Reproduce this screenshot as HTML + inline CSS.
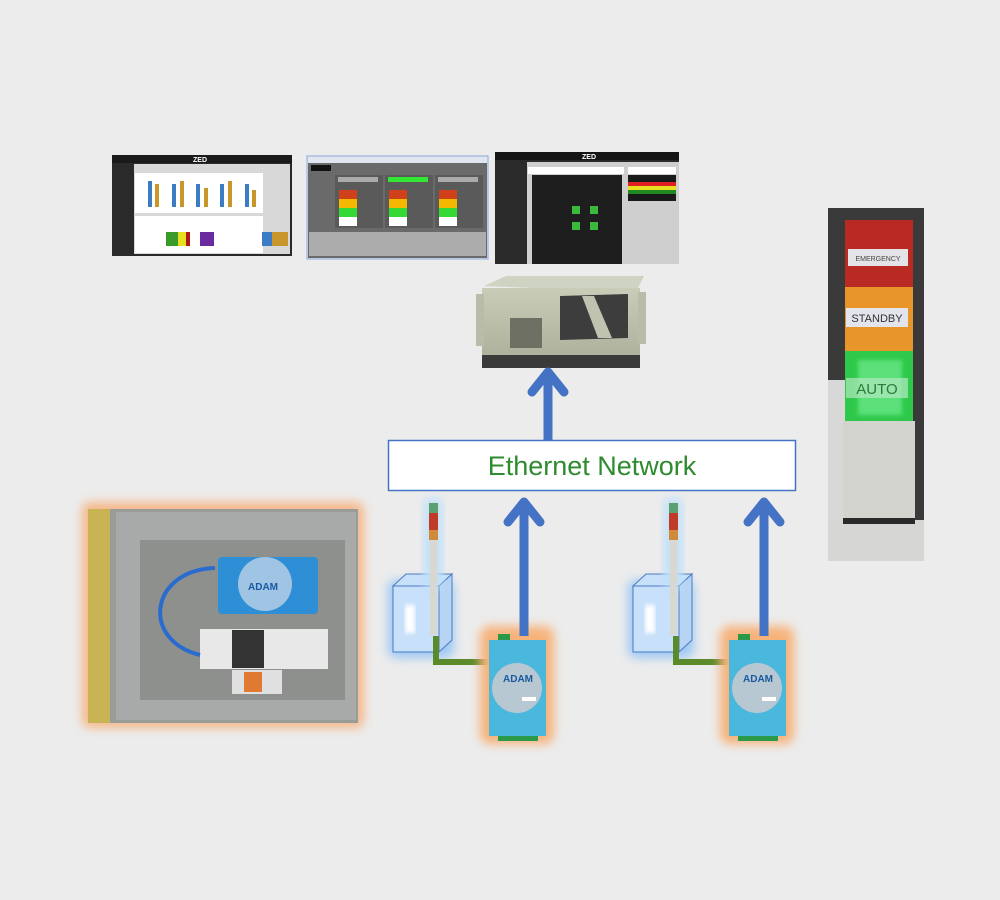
<!DOCTYPE html>
<html><head><meta charset="utf-8"><style>
html,body{margin:0;padding:0;background:#ececec;}
svg{display:block;}
text{font-family:"Liberation Sans",sans-serif;}
</style></head><body>
<svg width="1000" height="900" viewBox="0 0 1000 900" xmlns="http://www.w3.org/2000/svg">
<defs>
<filter id="glowO" x="-20%" y="-20%" width="140%" height="140%"><feGaussianBlur stdDeviation="5"/></filter>
<filter id="blur2"><feGaussianBlur stdDeviation="2"/></filter>
<linearGradient id="pc" x1="0" y1="0" x2="0" y2="1"><stop offset="0" stop-color="#c9cdb8"/><stop offset="1" stop-color="#a9ad98"/></linearGradient>
</defs>
<rect width="1000" height="900" fill="#ececec"/>

<!-- Screenshot 1 -->
<rect x="112" y="155" width="180" height="101" fill="#2a2a2a"/>
<rect x="112" y="155" width="180" height="8" fill="#1a1a1a"/>
<text x="193" y="162" font-size="7" fill="#fff" font-weight="bold">ZED</text>
<rect x="134" y="164" width="156" height="90" fill="#d8d8d8"/>
<rect x="135" y="173" width="128" height="40" fill="#fff"/>
<rect x="135" y="216" width="128" height="37" fill="#fff"/>
<g fill="#3c7cc4"><rect x="148" y="181" width="4" height="26"/><rect x="172" y="184" width="4" height="23"/><rect x="196" y="184" width="4" height="23"/><rect x="220" y="184" width="4" height="23"/><rect x="245" y="184" width="4" height="23"/></g>
<g fill="#c8962a"><rect x="155" y="184" width="4" height="23"/><rect x="180" y="181" width="4" height="26"/><rect x="204" y="188" width="4" height="19"/><rect x="228" y="181" width="4" height="26"/><rect x="252" y="190" width="4" height="17"/></g>
<rect x="166" y="232" width="12" height="14" fill="#3a9a2a"/><rect x="178" y="232" width="8" height="14" fill="#e6e020"/><rect x="186" y="232" width="4" height="14" fill="#b01818"/>
<rect x="200" y="232" width="14" height="14" fill="#6a2aa0"/>
<rect x="262" y="232" width="10" height="14" fill="#3c7cc4"/><rect x="272" y="232" width="16" height="14" fill="#c8962a"/>

<!-- Screenshot 2 -->
<rect x="307" y="156" width="181" height="103" fill="#e0e6f0" stroke="#8aa8d8"/>
<rect x="308" y="163" width="179" height="95" fill="#6a6a6a"/>
<rect x="311" y="165" width="20" height="6" fill="#111"/>
<rect x="335" y="175" width="48" height="53" fill="#5a5a5a"/>
<rect x="385" y="175" width="48" height="53" fill="#5a5a5a"/>
<rect x="435" y="175" width="48" height="53" fill="#5a5a5a"/>
<rect x="338" y="177" width="40" height="5" fill="#aaa"/><rect x="388" y="177" width="40" height="5" fill="#33e633"/><rect x="438" y="177" width="40" height="5" fill="#aaa"/>
<g><rect x="339" y="190" width="18" height="9" fill="#d0401a"/><rect x="339" y="199" width="18" height="9" fill="#f5b800"/><rect x="339" y="208" width="18" height="9" fill="#35d935"/><rect x="339" y="217" width="18" height="9" fill="#fff"/></g>
<g><rect x="389" y="190" width="18" height="9" fill="#d0401a"/><rect x="389" y="199" width="18" height="9" fill="#f5b800"/><rect x="389" y="208" width="18" height="9" fill="#35d935"/><rect x="389" y="217" width="18" height="9" fill="#fff"/></g>
<g><rect x="439" y="190" width="18" height="9" fill="#d0401a"/><rect x="439" y="199" width="18" height="9" fill="#f5b800"/><rect x="439" y="208" width="18" height="9" fill="#35d935"/><rect x="439" y="217" width="18" height="9" fill="#fff"/></g>
<rect x="309" y="232" width="177" height="24" fill="#d8d8d8" opacity="0.6"/>

<!-- Screenshot 3 -->
<rect x="495" y="152" width="184" height="112" fill="#2a2a2a"/>
<rect x="495" y="152" width="184" height="8" fill="#151515"/>
<text x="582" y="159" font-size="7" fill="#fff" font-weight="bold">ZED</text>
<rect x="527" y="162" width="152" height="102" fill="#cfcfcf"/>
<rect x="528" y="167" width="96" height="7" fill="#fff"/>
<rect x="532" y="175" width="90" height="89" fill="#1e1e1e"/>
<g fill="#3cb83c"><rect x="572" y="206" width="8" height="8"/><rect x="590" y="206" width="8" height="8"/><rect x="572" y="222" width="8" height="8"/><rect x="590" y="222" width="8" height="8"/></g>
<rect x="628" y="167" width="48" height="7" fill="#fff"/>
<rect x="628" y="175" width="48" height="26" fill="#1a1a1a"/>
<rect x="628" y="182" width="48" height="4" fill="#e02020"/><rect x="628" y="186" width="48" height="4" fill="#e8e020"/><rect x="628" y="190" width="48" height="4" fill="#208a20"/>

<!-- Computer -->
<polygon points="484,286 506,276 644,276 636,292" fill="#cfd3c2"/>
<rect x="482" y="288" width="158" height="80" fill="url(#pc)"/>
<rect x="476" y="294" width="8" height="52" fill="#b8bca8"/>
<rect x="638" y="292" width="8" height="52" fill="#b8bca8"/>
<rect x="510" y="318" width="32" height="30" fill="#6d7062"/>
<polygon points="560,296 628,294 628,338 560,340" fill="#3d3d3d"/>
<polygon points="582,296 594,296 612,338 598,338" fill="#bfc3b0"/>
<rect x="482" y="355" width="158" height="13" fill="#3a3a3a"/>

<!-- Main arrow -->
<line x1="548" y1="440" x2="548" y2="376" stroke="#4472c4" stroke-width="9"/>
<polyline points="532,392 548,372 564,392" fill="none" stroke="#4472c4" stroke-width="9" stroke-linecap="round" stroke-linejoin="round"/>

<!-- Ethernet box -->
<rect x="388.5" y="440.5" width="407" height="50" fill="#fff" stroke="#4472c4" stroke-width="1.5"/>
<text x="592" y="475" font-size="27" fill="#2e8b2e" text-anchor="middle">Ethernet Network</text>

<!-- Left photo -->
<rect x="82" y="502" width="282" height="226" rx="8" fill="#f5b88a" filter="url(#glowO)"/>
<rect x="88" y="509" width="270" height="214" fill="#9a9c98"/>
<rect x="88" y="509" width="22" height="214" fill="#c9b455"/>
<rect x="116" y="512" width="240" height="208" fill="#a7aaa8"/>
<rect x="140" y="540" width="205" height="160" fill="#8d908c"/>
<rect x="218" y="557" width="100" height="57" rx="4" fill="#2e8fd6"/>
<circle cx="265" cy="584" r="27" fill="#9fc4e4"/>
<text x="248" y="590" font-size="10" fill="#1a5aa0" font-weight="bold">ADAM</text>
<rect x="200" y="629" width="128" height="40" fill="#e8e8e8"/>
<rect x="232" y="630" width="32" height="38" fill="#333"/>
<rect x="232" y="670" width="50" height="24" fill="#e0e0e0"/>
<rect x="244" y="672" width="18" height="20" fill="#e07a30"/>
<path d="M215,568 C150,570 140,640 200,655" fill="none" stroke="#2a6bd0" stroke-width="4"/>

<!-- Right stack light photo -->
<rect x="828" y="208" width="96" height="353" fill="#3a3a3a"/>
<rect x="828" y="380" width="20" height="181" fill="#d8d8d8"/>
<rect x="828" y="520" width="96" height="41" fill="#d6d6d4"/>
<rect x="845" y="220" width="68" height="67" fill="#b82a22"/>
<rect x="845" y="287" width="68" height="64" fill="#e8962a"/>
<rect x="845" y="351" width="68" height="70" fill="#2ec94a"/>
<rect x="858" y="360" width="44" height="55" fill="#7cf09a" opacity="0.6" filter="url(#blur2)"/>
<rect x="843" y="421" width="72" height="100" fill="#d4d4cf"/>
<rect x="843" y="518" width="72" height="6" fill="#2a2a2a"/>
<rect x="848" y="249" width="60" height="17" fill="#e4e4e8"/>
<text x="878" y="261" font-size="7" fill="#444" text-anchor="middle">EMERGENCY</text>
<rect x="846" y="308" width="62" height="19" fill="#e4e4ec"/>
<text x="877" y="322" font-size="11" fill="#333" text-anchor="middle">STANDBY</text>
<rect x="846" y="378" width="62" height="20" fill="#b4e8c0" opacity="0.7"/>
<text x="877" y="394" font-size="15" fill="#2a7a3a" text-anchor="middle">AUTO</text>

<!-- Group template -->
<g id="grp">
  <rect x="388" y="580" width="66" height="78" rx="8" fill="#9ec8f5" filter="url(#glowO)"/>
  <rect x="393" y="586" width="46" height="66" fill="#c8e0fa" stroke="#4a7ac4" stroke-width="1"/>
  <polygon points="393,586 406,574 452,574 439,586" fill="#c8e0fa" stroke="#4a7ac4" stroke-width="1"/>
  <polygon points="439,586 452,574 452,640 439,652" fill="#b8d4f4" stroke="#4a7ac4" stroke-width="1"/>
  <rect x="405" y="605" width="10" height="28" fill="#fff" filter="url(#blur2)"/>
  <rect x="424" y="498" width="18" height="90" rx="6" fill="#bfe0fa" filter="url(#glowO)"/>
  <rect x="429" y="503" width="9" height="10" fill="#5aa070"/>
  <rect x="429" y="513" width="9" height="17" fill="#c03a2a"/>
  <rect x="429" y="530" width="9" height="10" fill="#d08a3a"/>
  <rect x="430" y="540" width="7" height="95" fill="#d8d8d0"/>
  <polyline points="436,636 436,662 494,662" fill="none" stroke="#5a8a2a" stroke-width="6"/>
  <rect x="480" y="626" width="74" height="118" rx="10" fill="#f7b27a" filter="url(#glowO)"/>
  <rect x="489" y="640" width="57" height="96" fill="#4ab8dc"/>
  <rect x="498" y="634" width="12" height="6" fill="#2a9a4a"/>
  <rect x="498" y="736" width="40" height="5" fill="#2a9a4a"/>
  <circle cx="517" cy="688" r="25" fill="#b8c8d2"/>
  <text x="503" y="682" font-size="10" fill="#1a5aa0" font-weight="bold">ADAM</text>
  <rect x="522" y="697" width="14" height="4" fill="#fff"/>
  <line x1="524" y1="636" x2="524" y2="505" stroke="#4472c4" stroke-width="9"/>
  <polyline points="508,522 524,502 540,522" fill="none" stroke="#4472c4" stroke-width="9" stroke-linecap="round" stroke-linejoin="round"/>
</g>
<use href="#grp" x="240"/>
</svg>
</body></html>
